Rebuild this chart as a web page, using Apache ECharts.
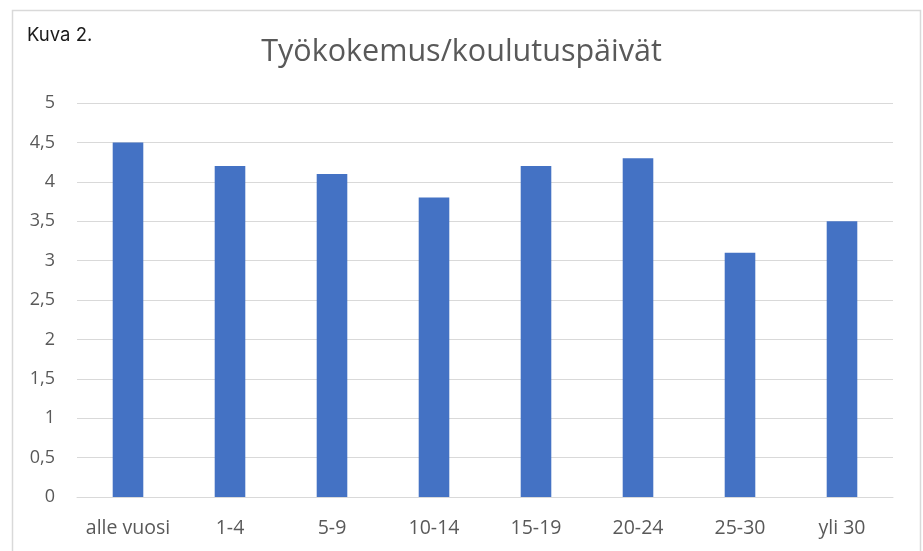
<!DOCTYPE html>
<html><head><meta charset="utf-8">
<script src="https://cdn.jsdelivr.net/npm/echarts@6/dist/echarts.min.js"></script>
<style>html,body{margin:0;padding:0;background:#fff}#c{width:923px;height:551px}</style>
</head><body><div id="c"></div>
<script>
const categories = ['alle vuosi', '1-4', '5-9', '10-14', '15-19', '20-24', '25-30', 'yli 30'];
const values = [4.5, 4.2, 4.1, 3.8, 4.2, 4.3, 3.1, 3.5];
const titleText = 'Työkokemus/koulutuspäivät';
const captionText = 'Kuva 2.';

const chart = echarts.init(document.getElementById('c'), null, {renderer: 'canvas'});
chart.setOption({
  animation: false,
  backgroundColor: '#fff',
  graphic: [{
    type: 'rect', left: 10, top: 8,
    shape: {width: 908, height: 560},
    style: {fill: 'none', stroke: '#d9d9d9', lineWidth: 1.5}
  }, {
    type: 'text', left: 27, top: 26,
    style: {text: captionText, fill: '#1a1a1a', font: '18.5px Inter, Roboto, sans-serif'}
  }],
  title: {
    text: titleText, left: 'center', top: 32,
    textStyle: {color: '#595959', fontSize: 30.5, fontWeight: 'normal', fontFamily: 'Open Sans'}
  },
  grid: {left: 77, right: 30, top: 103, bottom: 54, containLabel: false},
  xAxis: {
    type: 'category', data: categories,
    axisLine: {lineStyle: {color: '#d9d9d9'}},
    axisTick: {show: false},
    axisLabel: {color: '#595959', fontSize: 19.5, fontFamily: 'Open Sans', margin: 21,
      interval: 0, hideOverlap: false}
  },
  yAxis: {
    type: 'value', min: 0, max: 5, interval: 0.5,
    axisLine: {show: false}, axisTick: {show: false},
    splitLine: {lineStyle: {color: '#d9d9d9'}},
    axisLabel: {color: '#595959', fontSize: 18, fontFamily: 'Open Sans', margin: 22,
      formatter: v => String(v).replace('.', ',')}
  },
  series: [{
    type: 'bar', data: values, barWidth: '30%',
    itemStyle: {color: '#4472c4'}
  }]
});
</script></body></html>
